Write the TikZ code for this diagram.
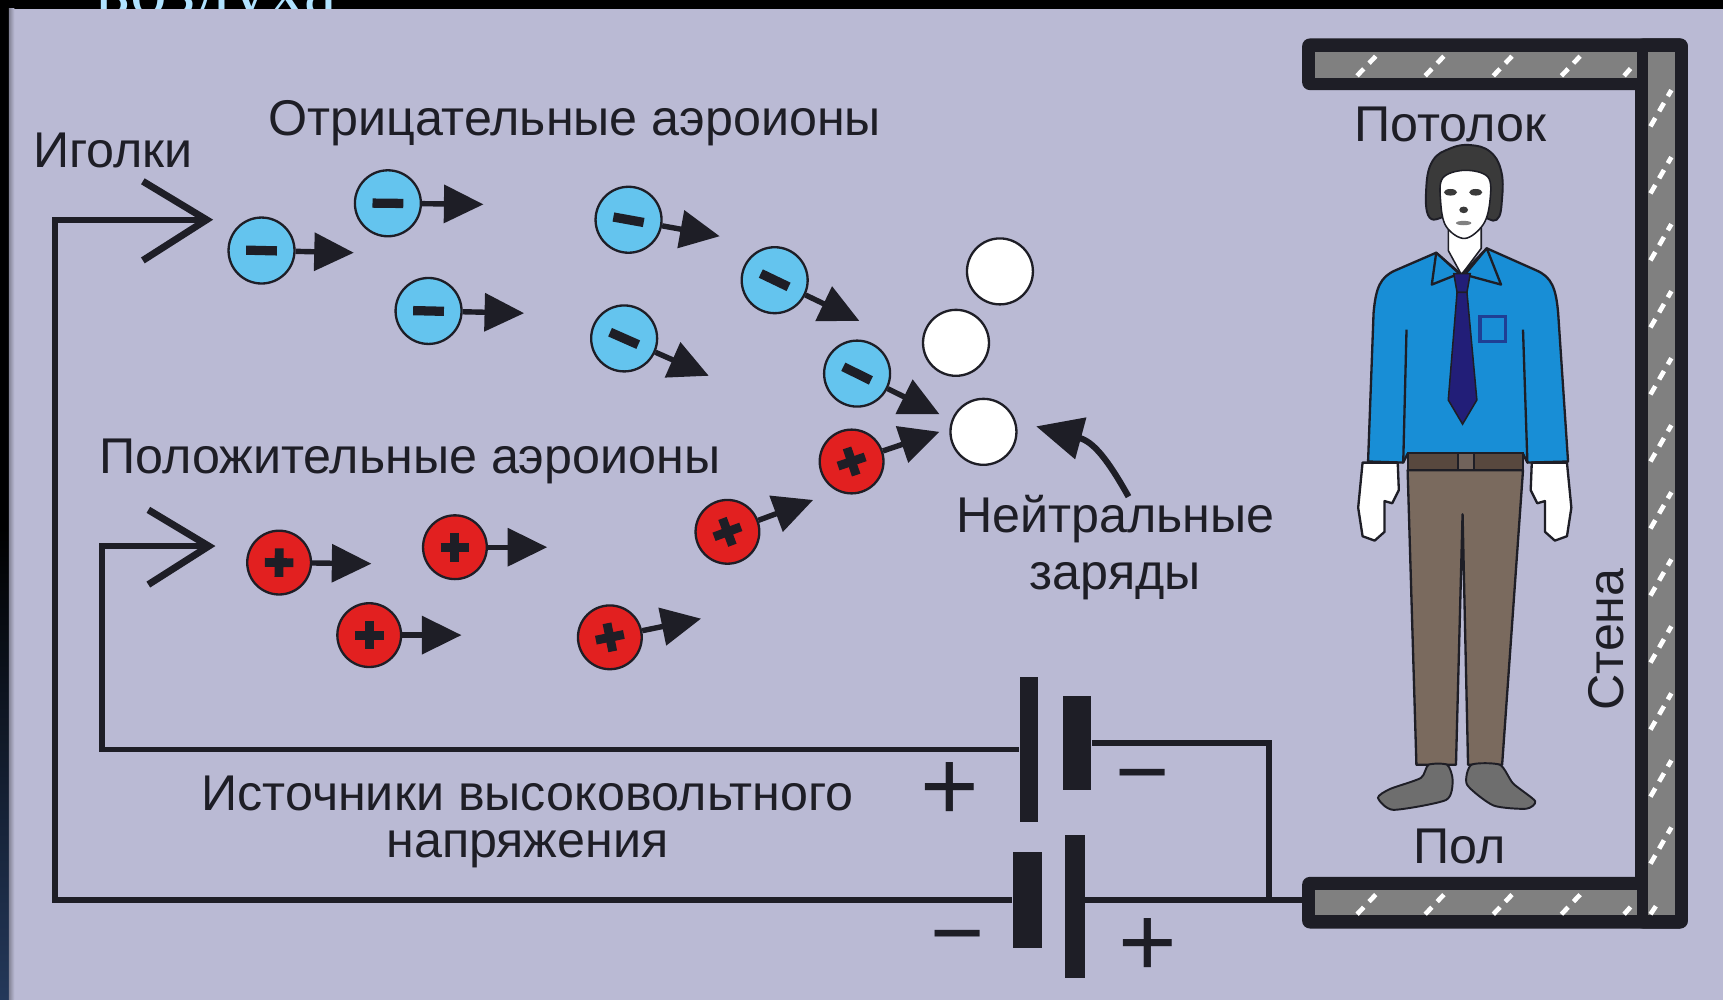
\documentclass[tikz,border=0pt]{standalone}
\usepackage{fontspec}
\setmainfont{Liberation Sans}
\newfontfamily\titleserif{Liberation Serif}
\usetikzlibrary{arrows.meta,calc}
\definecolor{panel}{RGB}{186,186,212}
\definecolor{ionblue}{RGB}{100,196,238}
\definecolor{ionred}{RGB}{226,32,32}
\definecolor{inkc}{RGB}{30,30,38}
\definecolor{wallgray}{RGB}{128,128,128}
\definecolor{shirtblue}{RGB}{24,142,214}
\definecolor{tienavy}{RGB}{34,30,120}
\definecolor{pantsbrown}{RGB}{122,106,94}
\definecolor{beltbrown}{RGB}{88,72,62}
\definecolor{shoegray}{RGB}{110,110,110}
\definecolor{hairgray}{RGB}{58,58,58}
\definecolor{titleblue}{RGB}{176,226,255}
\definecolor{navyedge}{RGB}{36,56,90}

\begin{document}
\begin{tikzpicture}[x=0.01cm,y=-0.01cm,
  lbl/.style={font=\fontsize{13}{15}\selectfont, text=inkc, inner sep=0pt},
  wire/.style={line width=1.45pt, draw=inkc, line join=miter},
  needle/.style={line width=1.8pt, draw=inkc, line join=miter},
  negion/.style={circle, draw=inkc, line width=0.6pt, fill=ionblue, minimum size=0.6cm, inner sep=0pt},
  posion/.style={circle, draw=inkc, line width=0.6pt, fill=ionred, minimum size=0.58cm, inner sep=0pt},
  neutral/.style={circle, draw=inkc, line width=0.6pt, fill=white, minimum size=0.6cm, inner sep=0pt},
  drift/.style={line width=1.4pt, draw=inkc, -{Triangle[length=0.36cm,width=0.34cm]}},
  chargebar/.style={line width=2.4pt, draw=inkc},
  cellplate/.style={rectangle, fill=inkc, draw=none, inner sep=0pt},
  polsign/.style={text=inkc, inner sep=0pt},
  outline/.style={draw=inkc, line width=0.6pt, line join=round},
  hatchdash/.style={draw=white, line width=1.2pt, dash pattern=on 2.5pt off 2pt},
]
\useasboundingbox (0,0) rectangle (1568,910);

% frame of the slide
\fill[black] (0,0) rectangle (1568,910);
\shade[top color=black, bottom color=navyedge] (0,480) rectangle (8,910);
\begin{scope}
  \clip (0,0) rectangle (1568,8);
  \node[anchor=base, text=titleblue, inner sep=0pt, font=\titleserif\fontsize{19}{20}\selectfont] (slidetitle) at (197,13) {воздуха};
\end{scope}

% panel
\fill[panel] (8,8) rectangle (1568,910);
\shade[left color=panel!70!black, right color=panel] (8,8) rectangle (13,910);

% ceiling, wall and floor
\fill[inkc, rounded corners=2] (1185,35) rectangle (1536,82);
\fill[inkc, rounded corners=2] (1488,35) rectangle (1536,845);
\fill[inkc, rounded corners=2] (1185,798) rectangle (1536,845);
\fill[wallgray] (1197,47) rectangle (1490,71);
\fill[wallgray] (1500,47) rectangle (1524,833);
\fill[wallgray] (1197,810) rectangle (1490,833);
\foreach \x in {1235,1297,1359,1421} {
  \draw[hatchdash] (\x,69) -- ++(20,-21);
  \draw[hatchdash] (\x,832) -- ++(20,-21);
}
\draw[hatchdash] (1478,69) -- ++(8,-9);
\draw[hatchdash] (1478,832) -- ++(8,-9);
\foreach \y in {82,143,204,265,326,387,448,509,570,631,692,753} {
  \draw[hatchdash] (1502,\y+33) -- (1521,\y);
}
\draw[hatchdash] (1502,832) -- (1510,820);

% labels
\node[lbl] (needles) at (103,137) {Иголки};
\node[lbl] (negtitle) at (523,112) {Отрицательные аэроионы};
\node[lbl] (postitle) at (373,420) {Положительные аэроионы};
\node[lbl, align=center, font=\fontsize{13}{14.8}\selectfont] (neutraltitle) at (1015,498) {Нейтральные\\заряды};
\node[lbl, align=center, font=\fontsize{13}{12.3}\selectfont] (sourcetitle) at (480,748) {Источники высоковольтного\\напряжения};
\node[lbl] (ceillbl) at (1320,113) {Потолок};
\node[lbl] (floorlbl) at (1328,770) {Пол};
\node[lbl, rotate=90] (walllbl) at (1462,582) {Стена};

% emitters (needles) and wiring
\coordinate (tipA) at (188,200);
\coordinate (tipB) at (190,497);
\draw[needle] (130,165) -- (tipA) -- (130,237);
\draw[needle] (135,464) -- (tipB) -- (135,532);

% high voltage cells
\node[cellplate, minimum width=0.17cm, minimum height=1.32cm] (b1pos) at (936.5,682) {};
\node[cellplate, minimum width=0.26cm, minimum height=0.86cm] (b1neg) at (980,676) {};
\node[cellplate, minimum width=0.26cm, minimum height=0.87cm] (b2neg) at (935,819) {};
\node[cellplate, minimum width=0.18cm, minimum height=1.30cm] (b2pos) at (978,825) {};
\coordinate (jn) at (1155,819);
\coordinate (floorin) at (1185,819);

\draw[wire] (tipA) -- (50,200) -- (50,819) -- (b2neg.west);
\draw[wire] (tipB) -- (93,497) -- (93,682) -- (b1pos.west);
\draw[wire] (b1neg.east) -- (1155,676) -- (jn);
\draw[wire] (b2pos.east |- jn) -- (jn) -- (floorin);

\node[polsign, font=\fontsize{26}{26}\selectfont] (plusA) at (864,720) {+};
\node[polsign, font=\fontsize{24}{24}\selectfont] (minusA) at (1040,716) {−};
\node[polsign, font=\fontsize{24}{24}\selectfont] (minusB) at (871,862) {−};
\node[polsign, font=\fontsize{26}{26}\selectfont] (plusB) at (1045,862) {+};

% neutral particles
\node[neutral] (z1) at (910,247) {};
\node[neutral] (z2) at (870,312) {};
\node[neutral] (z3) at (895,393) {};
\coordinate (ntail) at (1027,452);
\coordinate (nhead) at (943,388);
\draw[line width=1.6pt, draw=inkc, -{Triangle[length=0.42cm,width=0.38cm]}] (ntail) .. controls (1008,418) and (995,402) .. (nhead);

% negative air ions
\foreach \nm/\x/\y/\tx/\ty in {n1/238/228/322/230, n2/353/185/440/186, n3/390/283/477/285,
    n4/572/200/655/215, n5/705/255/782/292, n6/568/308/645/342, n7/780/340/855/377} {
  \node[negion] (\nm) at (\x,\y) {};
  \coordinate (\nm tip) at (\tx,\ty);
  \draw[drift] (\nm) -- (\nm tip);
  \draw[chargebar] ($(\nm)!-0.14cm!(\nm tip)$) -- ($(\nm)!0.14cm!(\nm tip)$);
}

% positive air ions
\foreach \nm/\x/\y/\tx/\ty in {p1/254/512/338/513, p2/414/498/498/498, p3/336/578/420/578,
    p4/555/580/638/563, p5/662/484/740/455, p6/775/420/855/393} {
  \node[posion] (\nm) at (\x,\y) {};
  \coordinate (\nm tip) at (\tx,\ty);
  \draw[drift] (\nm) -- (\nm tip);
  \draw[chargebar, line width=2.3pt] ($(\nm)!-0.13cm!(\nm tip)$) -- ($(\nm)!0.13cm!(\nm tip)$);
  \draw[chargebar, line width=2.3pt] ($(\nm)!0.13cm!90:(\nm tip)$) -- ($(\nm)!0.13cm!-90:(\nm tip)$);
}

% the person standing in the room
\filldraw[fill=hairgray, draw=inkc, line width=0.5pt]
  plot[smooth cycle, tension=0.7] coordinates {(1301,198) (1298,170) (1304,146) (1320,135) (1338,132) (1356,138) (1366,155) (1367,180) (1362,200) (1345,196) (1320,196)};
\filldraw[fill=white, outline, line width=0.4pt] (1318,200) -- (1318,228) -- (1330,250) -- (1348,226) -- (1348,200) -- cycle;
\filldraw[fill=white, draw=inkc, line width=0.4pt]
  plot[smooth cycle, tension=0.6] coordinates {(1313,162) (1333,155) (1354,161) (1356,182) (1350,204) (1333,217) (1316,206) (1311,183)};
\fill[hairgray] (1320,175) ellipse (6 and 3);
\fill[hairgray] (1343,175) ellipse (6 and 3);
\fill[hairgray] (1332,191) ellipse (4 and 3);
\fill[gray] (1332,203) ellipse (7 and 2);

% shirt
\filldraw[fill=shirtblue, outline]
  (1307,230) -- (1330,250) -- (1353,226) -- (1398,246)
  .. controls (1412,252) and (1416,262) .. (1418,285) -- (1427,420) -- (1390,421)
  -- (1386,413) -- (1281,413) -- (1277,421) -- (1245,420) -- (1250,285)
  .. controls (1252,262) and (1256,252) .. (1270,246) -- cycle;
\draw[outline] (1280,300) -- (1277,421);
\draw[outline] (1386,300) -- (1390,421);
\filldraw[fill=shirtblue, outline] (1307,230) -- (1303,259) -- (1328,249) -- cycle;
\filldraw[fill=shirtblue, outline] (1353,226) -- (1366,259) -- (1333,250) -- cycle;
\filldraw[fill=tienavy, draw=inkc, line width=0.4pt] (1323,249) -- (1338,249) -- (1335,266) -- (1326,266) -- cycle;
\filldraw[fill=tienavy, draw=inkc, line width=0.4pt] (1326,266) -- (1335,266) -- (1344,364) -- (1331,386) -- (1318,364) -- cycle;
\draw[tienavy!70!shirtblue, line width=0.9pt] (1347,288) rectangle (1370,311);

% hands
\filldraw[fill=white, outline]
  (1240,421) -- (1272,421) -- (1273,446) -- (1267,458) -- (1260,456) -- (1260,484)
  -- (1251,492) -- (1240,488) -- (1236,462) -- cycle;
\filldraw[fill=white, outline]
  (1426,421) -- (1394,421) -- (1393,446) -- (1399,458) -- (1406,456) -- (1406,484)
  -- (1415,492) -- (1426,488) -- (1430,462) -- cycle;

% belt and trousers
\filldraw[fill=pantsbrown, outline]
  (1281,428) -- (1386,428) -- (1367,696) -- (1336,696) -- (1331,468) -- (1325,696) -- (1289,696) -- cycle;
\filldraw[fill=beltbrown, draw=inkc, line width=0.5pt] (1281,412) rectangle (1386,428);
\draw[fill=beltbrown!85!white, draw=inkc, line width=0.5pt] (1327,412) rectangle (1341,428);

% shoes
\filldraw[fill=shoegray, draw=inkc, line width=0.5pt]
  plot[smooth cycle, tension=0.4] coordinates {(1300,696) (1317,696) (1322,710) (1316,728) (1268,737) (1254,726) (1265,718) (1293,708)};
\filldraw[fill=shoegray, draw=inkc, line width=0.5pt]
  plot[smooth cycle, tension=0.4] coordinates {(1339,696) (1365,696) (1377,713) (1397,729) (1389,736) (1359,733) (1335,714)};
\end{tikzpicture}
\end{document}
